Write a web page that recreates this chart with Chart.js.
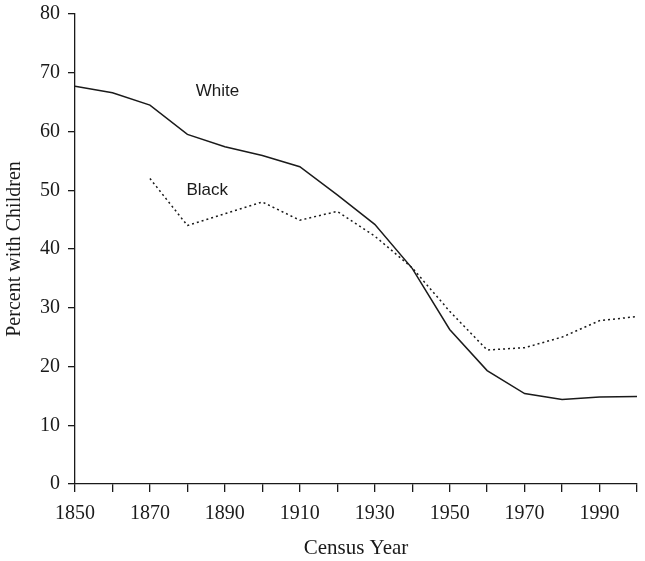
<!DOCTYPE html>
<html>
<head>
<meta charset="utf-8">
<script src="https://cdn.jsdelivr.net/npm/chart.js@4.4.1/dist/chart.umd.min.js"></script>
<style>
  html, body { margin: 0; padding: 0; background: #fff; }
  #wrap { width: 645px; height: 561px; position: relative; }
</style>
</head>
<body>
<div id="wrap"><canvas id="chart"></canvas></div>
<script>
// census years and percent of households with children
const years = [1850, 1860, 1870, 1880, 1890, 1900, 1910, 1920, 1930, 1940, 1950, 1960, 1970, 1980, 1990, 2000];
const white = [67.7, 66.6, 64.5, 59.5, 57.4, 55.9, 54.0, 49.2, 44.2, 36.7, 26.3, 19.3, 15.4, 14.4, 14.8, 14.9];
const black = [null, null, 52.0, 44.0, 46.0, 48.0, 44.9, 46.4, 42.2, 36.8, 29.4, 22.8, 23.2, 25.0, 27.8, 28.5];
const yTicks = [0, 10, 20, 30, 40, 50, 60, 70, 80];
const xLabelYears = [1850, 1870, 1890, 1910, 1930, 1950, 1970, 1990];

// series labels placed inside the plot, in data coordinates
const seriesLabels = [
    { text: 'White', x: 1888, y: 66.9 },
    { text: 'Black', x: 1885.3, y: 50.0 }
];

const serif = "'Liberation Serif', 'Times New Roman', serif";
const ink = '#1a1a1a';

const inlineLabels = {
    id: 'inlineLabels',
    afterDatasetsDraw(chart) {
        const { ctx, scales } = chart;
        ctx.save();
        ctx.fillStyle = ink;
        ctx.font = "17px 'Liberation Sans', Arial, sans-serif";
        ctx.textAlign = 'center';
        ctx.textBaseline = 'middle';
        seriesLabels.forEach(l => {
            ctx.fillText(l.text, scales.x.getPixelForValue(l.x), scales.y.getPixelForValue(l.y));
        });
        ctx.restore();
    }
};

new Chart(document.getElementById('chart').getContext('2d'), {
    type: 'line',
    data: {
        labels: years,
        datasets: [
            {
                label: 'White',
                data: years.map((y, i) => ({ x: y, y: white[i] })),
                borderColor: ink,
                borderWidth: 1.5,
                pointRadius: 0,
                tension: 0
            },
            {
                label: 'Black',
                data: years.map((y, i) => ({ x: y, y: black[i] })),
                borderColor: ink,
                borderWidth: 1.5,
                borderDash: [2, 3],
                pointRadius: 0,
                tension: 0,
                spanGaps: false
            }
        ]
    },
    options: {
        responsive: true,
        maintainAspectRatio: false,
        animation: false,
        layout: { padding: { top: 14, right: 8, left: 0, bottom: 0 } },
        plugins: { legend: { display: false }, tooltip: { enabled: false } },
        scales: {
            x: {
                type: 'linear',
                min: 1850,
                max: 2000,
                afterBuildTicks: scale => { scale.ticks = years.map(v => ({ value: v })); },
                afterFit: scale => {
                    scale.height = 77;
                    scale.paddingLeft = 0;
                    scale.paddingRight = 0;
                },
                ticks: {
                    color: ink,
                    font: { family: serif, size: 20 },
                    padding: 10,
                    maxRotation: 0,
                    autoSkip: false,
                    callback: v => xLabelYears.includes(v) ? String(v) : ''
                },
                grid: { drawOnChartArea: false, drawTicks: true, tickLength: 8, color: ink, lineWidth: 1.3 },
                border: { color: ink, width: 1.3 },
                title: {
                    display: true,
                    text: 'Census Year',
                    color: ink,
                    font: { family: serif, size: 21 },
                    padding: { top: 4, bottom: 0 }
                }
            },
            y: {
                min: 0,
                max: 80,
                afterBuildTicks: scale => { scale.ticks = yTicks.map(v => ({ value: v })); },
                afterFit: scale => {
                    scale.width = 75;
                    scale.paddingTop = 0;
                    scale.paddingBottom = 0;
                },
                ticks: {
                    color: ink,
                    font: { family: serif, size: 20 },
                    padding: 8
                },
                grid: { drawOnChartArea: false, drawTicks: true, tickLength: 7, color: ink, lineWidth: 1.3 },
                border: { color: ink, width: 1.3 },
                title: {
                    display: true,
                    text: 'Percent with Children',
                    color: ink,
                    font: { family: serif, size: 20 },
                    padding: { top: 3, bottom: 0 }
                }
            }
        }
    },
    plugins: [inlineLabels]
});
</script>
</body>
</html>
